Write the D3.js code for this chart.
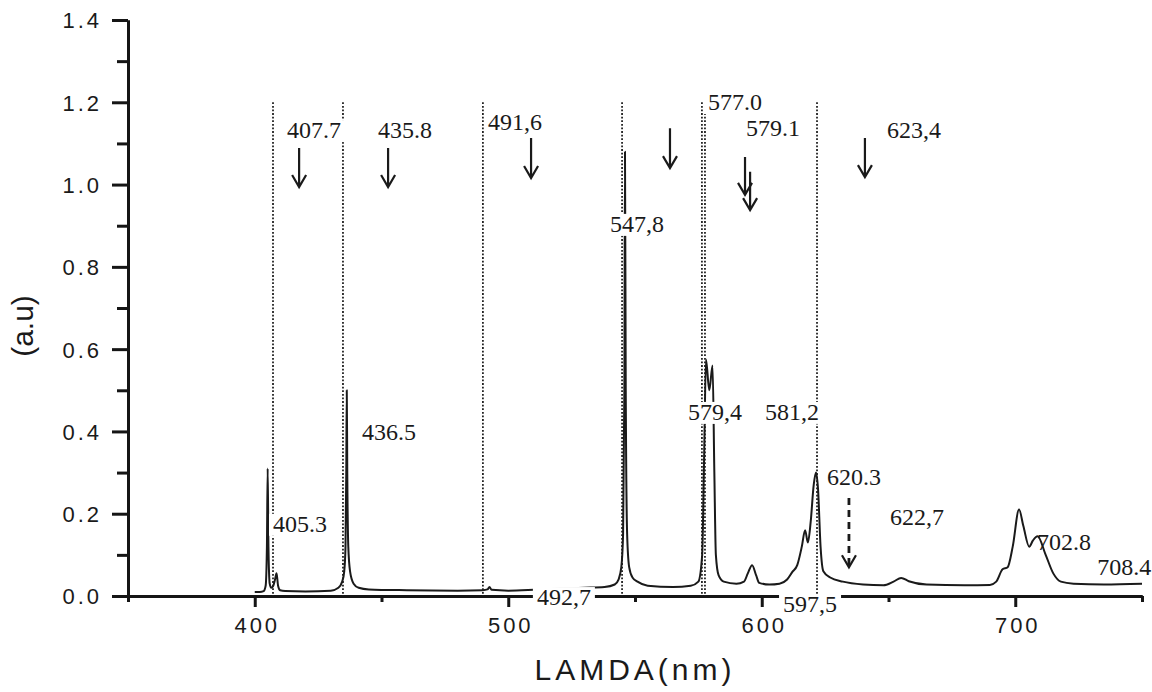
<!DOCTYPE html>
<html>
<head>
<meta charset="utf-8">
<script src="https://cdn.jsdelivr.net/npm/d3@7"></script>
<style>
  body { margin: 0; background: #fff; }
  .tick text { font-family: "Liberation Sans", Arial, sans-serif; font-size: 22px; letter-spacing: 3px; fill: #1a1a1a; }
  .etiqueta { font-family: "Liberation Serif", "Times New Roman", serif; font-size: 24px; fill: #1a1a1a; }
  .titulo { font-family: "Liberation Sans", Arial, sans-serif; font-size: 30px; fill: #1a1a1a; }
</style>
</head>
<body>
<script>
const largura = 1152
const altura = 692
const margem = {topo: 20, direita: 10, base: 96, esquerda: 128}

// espectro (nm, u.a.)
const comprimento = [400, 402, 403.5, 404.3, 404.8, 405.1, 405.4, 405.9, 406.5, 407.3, 408, 408.6, 409.2, 410,
  412, 420, 430, 433, 434.5, 435.3, 435.8, 436.1, 436.3, 436.5, 436.9, 437.6, 439, 441, 445, 460, 480, 490,
  491.8, 492.6, 493.4, 500, 510, 520, 530, 538, 542, 543.5, 544.6, 545.3, 545.8, 546.05, 546.35, 546.9,
  547.7, 549, 551, 555, 565, 572, 575, 576.5, 577.3, 578, 579.3, 580.6, 581.3, 581.9, 583, 585, 590,
  593, 594.5, 596.2, 597.8, 599, 603, 607, 610, 612, 614, 615.8, 617.1, 618.2, 619.3, 620.5,
  621.4, 622.2, 623.2, 624.3, 627, 632, 640, 648, 652, 655, 658, 665, 680, 690, 692.5, 695,
  697, 699, 701.5, 703.2, 705.5, 707, 708.8, 712, 715, 718, 723, 735, 750]
const intensidade = [0.010, 0.010, 0.012, 0.025, 0.12, 0.31, 0.12, 0.03, 0.02, 0.025, 0.04, 0.055, 0.025, 0.014,
  0.012, 0.011, 0.013, 0.02, 0.035, 0.06, 0.12, 0.30, 0.50, 0.30, 0.12, 0.06, 0.03, 0.02, 0.016, 0.014, 0.013, 0.014,
  0.016, 0.022, 0.015, 0.013, 0.015, 0.018, 0.020, 0.022, 0.028, 0.04, 0.07, 0.15, 0.50, 1.08, 0.50, 0.15,
  0.07, 0.045, 0.035, 0.025, 0.022, 0.025, 0.035, 0.10, 0.35, 0.575, 0.50, 0.56, 0.30, 0.10, 0.05, 0.035, 0.03,
  0.035, 0.055, 0.075, 0.05, 0.032, 0.028, 0.03, 0.04, 0.058, 0.075, 0.12, 0.16, 0.13, 0.18, 0.27,
  0.30, 0.26, 0.12, 0.06, 0.045, 0.035, 0.028, 0.026, 0.035, 0.044, 0.036, 0.028, 0.026, 0.027, 0.035, 0.065,
  0.07, 0.12, 0.21, 0.17, 0.12, 0.135, 0.145, 0.10, 0.055, 0.035, 0.03, 0.028, 0.03]

// linhas pontilhadas verticais (nm), de 0 ate 1.2
const linhasPontilhadas = [407.2, 434.8, 490.0, 544.9, 576.4, 577.6, 621.8]
const topoPontilhado = 1.2

// setas: posicao (nm), inicio e fim (u.a.)
const setaX = [417.5, 452.6, 509.0, 563.8, 593.4, 595.4, 640.7]
const setaTopo = [1.089, 1.089, 1.113, 1.137, 1.067, 1.031, 1.113]
const setaBase = [0.994, 0.994, 1.016, 1.040, 0.975, 0.938, 1.018]
const setaTracejadaX = 634.4
const setaTracejadaTopo = 0.238
const setaTracejadaBase = 0.070

// rotulos dos picos
const rotuloTexto = ['407.7', '435.8', '491,6', '577.0', '579.1', '623,4', '547,8', '436.5', '405.3',
  '579,4', '581,2', '620.3', '622,7', '702.8', '708.4', '492,7', '597,5']
const rotuloX = [412.7, 448.6, 492.0, 578.8, 593.8, 649.4, 540.1, 442.3, 407.2,
  570.9, 601.3, 625.7, 650.6, 708.6, 732.3, 511.3, 608.4]
const rotuloY = [1.113, 1.113, 1.133, 1.181, 1.118, 1.113, 0.885, 0.379, 0.156,
  0.428, 0.428, 0.270, 0.173, 0.112, 0.051, -0.022, -0.039]
const rotuloFundo = [true, true, true, true, true, true, true, false, true,
  true, true, false, false, false, false, true, true]

const ticksX = [400, 500, 600, 700]
const ticksXmenor = [350, 450, 550, 650, 750]
const ticksY = [0, 0.2, 0.4, 0.6, 0.8, 1.0, 1.2, 1.4]
const ticksYmenor = [0.1, 0.3, 0.5, 0.7, 0.9, 1.1, 1.3]

const tituloX = 'LAMDA(nm)'
const tituloY = '(a.u)'

var svg = d3.select('body').append('svg')
  .attr('width', largura)
  .attr('height', altura)

var x = d3.scaleLinear().domain([350, 750]).range([margem.esquerda, largura - margem.direita])
var y = d3.scaleLinear().domain([0, 1.4]).range([altura - margem.base, margem.topo])

// eixos
var eixoXmenor = d3.axisBottom(x).tickValues(ticksXmenor).tickSize(6).tickSizeOuter(0).tickFormat('')
var eixoX = d3.axisBottom(x).tickValues(ticksX).tickSize(11).tickSizeOuter(0).tickFormat(d3.format('d'))
var eixoYmenor = d3.axisLeft(y).tickValues(ticksYmenor).tickSize(11).tickSizeOuter(0).tickFormat('')
var eixoY = d3.axisLeft(y).tickValues(ticksY).tickSize(16).tickSizeOuter(0).tickFormat(d3.format('.1f'))

function estiloEixo(g) {
  g.selectAll('path, line').attr('stroke', '#151515').attr('stroke-width', 3)
}

svg.append('g').attr('transform', 'translate(0,' + y(0) + ')').call(eixoXmenor).call(estiloEixo)
var gx = svg.append('g').attr('transform', 'translate(0,' + y(0) + ')').call(eixoX).call(estiloEixo)
gx.selectAll('text').attr('y', 37).attr('dy', 0).attr('dx', 2)
svg.append('g').attr('transform', 'translate(' + x(350) + ',0)').call(eixoYmenor).call(estiloEixo)
var gy = svg.append('g').attr('transform', 'translate(' + x(350) + ',0)').call(eixoY).call(estiloEixo)
gy.selectAll('text').attr('x', -26).attr('dy', '0.36em')

// linhas pontilhadas
svg.append('g').selectAll('line')
  .data(linhasPontilhadas)
  .join('line')
    .attr('x1', d => x(d)).attr('x2', d => x(d))
    .attr('y1', y(topoPontilhado)).attr('y2', y(0))
    .attr('stroke', '#222')
    .attr('stroke-width', 1.8)
    .attr('stroke-dasharray', '1.8,1.8')

// espectro
var dados = comprimento.map((c, i) => ({c: c, v: intensidade[i]}))
var geradorLinha = d3.line()
  .x(d => x(d.c))
  .y(d => y(d.v))
  .curve(d3.curveMonotoneX)

svg.append('path')
  .attr('d', geradorLinha(dados))
  .attr('fill', 'none')
  .attr('stroke', '#1a1a1a')
  .attr('stroke-width', 2)
  .attr('stroke-linejoin', 'round')

// setas
function caminhoSeta(cx, topo, base) {
  var px = x(cx), y0 = y(topo), y1 = y(base)
  return 'M' + px + ',' + y0 + 'L' + px + ',' + y1 +
    'M' + (px - 7) + ',' + (y1 - 12) + 'L' + px + ',' + y1 + 'L' + (px + 7) + ',' + (y1 - 12)
}

svg.append('g').selectAll('path')
  .data(setaX)
  .join('path')
    .attr('d', (d, i) => caminhoSeta(d, setaTopo[i], setaBase[i]))
    .attr('fill', 'none')
    .attr('stroke', '#1a1a1a')
    .attr('stroke-width', 2.2)

var yT = y(setaTracejadaBase), pxT = x(setaTracejadaX)
svg.append('path')
  .attr('d', 'M' + pxT + ',' + y(setaTracejadaTopo) + 'L' + pxT + ',' + (yT - 2))
  .attr('stroke', '#1a1a1a').attr('stroke-width', 2.8).attr('stroke-dasharray', '7,5').attr('fill', 'none')
svg.append('path')
  .attr('d', 'M' + (pxT - 7) + ',' + (yT - 12) + 'L' + pxT + ',' + yT + 'L' + (pxT + 7) + ',' + (yT - 12))
  .attr('stroke', '#1a1a1a').attr('stroke-width', 2.2).attr('fill', 'none')

// rotulos
var rotulos = svg.append('g').selectAll('g')
  .data(rotuloTexto)
  .join('g')
    .attr('transform', (d, i) => 'translate(' + x(rotuloX[i]) + ',' + y(rotuloY[i]) + ')')

rotulos.append('text')
  .attr('class', 'etiqueta')
  .text(d => d)

rotulos.each(function (d, i) {
  if (!rotuloFundo[i]) return
  var g = d3.select(this)
  var b = g.select('text').node().getBBox()
  g.insert('rect', 'text')
    .attr('x', b.x - 4).attr('y', b.y + 3)
    .attr('width', b.width + 8).attr('height', b.height - 4)
    .attr('fill', '#fff')
})

// titulos
svg.append('text')
  .attr('class', 'titulo')
  .attr('x', 635)
  .attr('y', 680)
  .attr('text-anchor', 'middle')
  .style('letter-spacing', '4px')
  .text(tituloX)

svg.append('text')
  .attr('class', 'titulo')
  .attr('transform', 'translate(33,326) rotate(-90)')
  .attr('text-anchor', 'middle')
  .text(tituloY)
</script>
</body>
</html>
